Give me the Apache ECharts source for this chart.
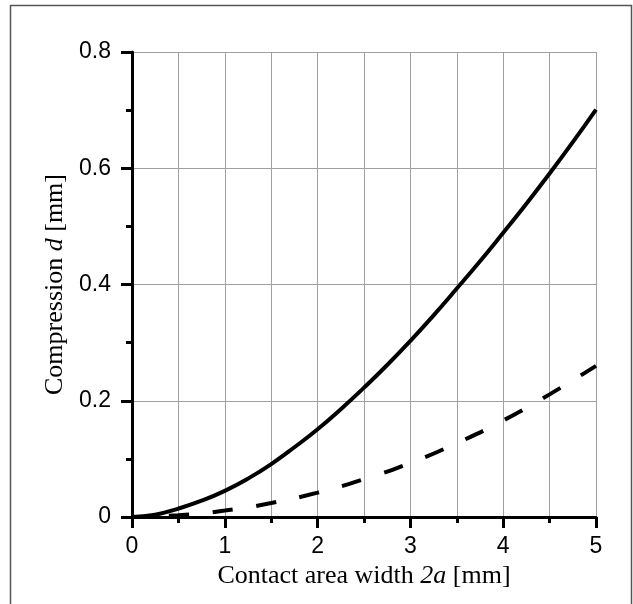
<!DOCTYPE html>
<html>
<head>
<meta charset="utf-8">
<script src="https://cdn.jsdelivr.net/npm/echarts@6/dist/echarts.min.js"></script>
<style>
  html, body { margin: 0; padding: 0; background: #fff; }
  #chart { width: 633px; height: 604px; }
</style>
</head>
<body>
<div id="chart"></div>
<script>
// solid curve, every 0.25 mm
var solidX = [0, 0.25, 0.5, 0.75, 1, 1.25, 1.5, 1.75, 2, 2.25, 2.5, 2.75, 3, 3.25, 3.5, 3.75, 4, 4.25, 4.5, 4.75, 5]
var solidY = [0, 0.004, 0.0145, 0.028, 0.045, 0.066, 0.091, 0.12, 0.151, 0.1855, 0.2225, 0.2615, 0.303, 0.347, 0.393, 0.44, 0.489, 0.539, 0.591, 0.645, 0.701]

// dashed curve, every 0.5 mm
var dashX = [0, 0.5, 1, 1.5, 2, 2.5, 3, 3.5, 4, 4.5, 5]
var dashY = [0, 0.003, 0.011, 0.024, 0.042, 0.065, 0.093, 0.127, 0.166, 0.211, 0.26]

var xTicks = [0, 1, 2, 3, 4, 5]
var yTicks = [0, 0.2, 0.4, 0.6, 0.8]

function pairs(xs, ys) {
  return xs.map(function(x, i) { return [x, ys[i]] })
}

var gridColor = '#a0a0a0'
var labelFont = { fontFamily: 'Liberation Sans', fontSize: 23, color: '#000' }
var nameRich = {
  n: { fontFamily: 'Liberation Serif', fontSize: 26, color: '#000' },
  i: { fontFamily: 'Liberation Serif', fontSize: 26, fontStyle: 'italic', color: '#000' }
}

var chart = echarts.init(document.getElementById('chart'), null, { renderer: 'canvas' })
chart.setOption({
  backgroundColor: '#fff',
  animation: false,
  graphic: [{
    type: 'rect',
    silent: true,
    shape: { x: 10.5, y: 5.5, width: 621, height: 640 },
    style: { fill: 'none', stroke: '#555', lineWidth: 1.5 }
  }],
  grid: { left: 132, right: 37, top: 52, bottom: 87 },
  xAxis: {
    type: 'value',
    min: xTicks[0],
    max: xTicks[xTicks.length - 1],
    interval: 1,
    name: '{n|Contact area width }{i|2a}{n| [mm]}',
    nameLocation: 'middle',
    nameGap: 40,
    nameTextStyle: { rich: nameRich },
    axisLine: { onZero: false, lineStyle: { color: '#000', width: 3 } },
    axisTick: { length: 11, lineStyle: { color: '#000', width: 3 } },
    minorTick: { show: true, splitNumber: 2, length: 6, lineStyle: { color: '#000', width: 3 } },
    splitLine: { show: true, lineStyle: { color: gridColor, width: 1 } },
    minorSplitLine: { show: true, lineStyle: { color: gridColor, width: 1 } },
    axisLabel: Object.assign({ margin: 18 }, labelFont)
  },
  yAxis: {
    type: 'value',
    min: yTicks[0],
    max: yTicks[yTicks.length - 1],
    interval: 0.2,
    name: '{n|Compression }{i|d}{n| [mm]}',
    nameLocation: 'middle',
    nameGap: 64,
    nameTextStyle: { rich: nameRich },
    axisLine: { show: true, onZero: false, lineStyle: { color: '#000', width: 3 } },
    axisTick: { show: true, length: 11, lineStyle: { color: '#000', width: 3 } },
    minorTick: { show: true, splitNumber: 2, length: 6, lineStyle: { color: '#000', width: 3 } },
    splitLine: { show: true, lineStyle: { color: gridColor, width: 1 } },
    axisLabel: Object.assign({ margin: 21 }, labelFont)
  },
  series: [{
    name: 'dashed',
    type: 'line',
    data: pairs(dashX, dashY),
    smooth: true,
    symbol: 'none',
    z: 3,
    lineStyle: { color: '#000', width: 4, type: [20, 24], dashOffset: 7 }
  }, {
    name: 'solid',
    type: 'line',
    data: pairs(solidX, solidY),
    smooth: true,
    symbol: 'none',
    z: 4,
    lineStyle: { color: '#000', width: 4 }
  }]
})
</script>
</body>
</html>
